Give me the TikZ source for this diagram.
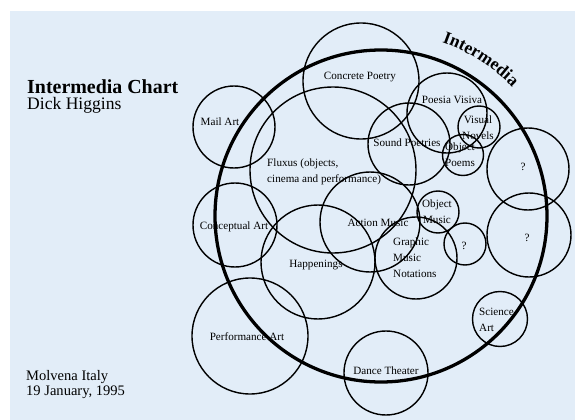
\documentclass[tikz,border=0pt]{standalone}
\usepackage{xcolor}
\usepackage{fontspec}
\setmainfont{Liberation Serif}
\usetikzlibrary{decorations.text}
\definecolor{paper}{RGB}{226,237,248}

\begin{document}
\begin{tikzpicture}[
  x=0.03cm, y=-0.03cm,
  ring/.style={circle, draw, line width=1.2pt, inner sep=0pt, outer sep=0pt, minimum size={#1*0.06cm}},
  bigring/.style={ring=#1, line width=2.8pt},
  tag/.style={font=\fontsize{9.5}{13.5}\selectfont, align=center, inner sep=0pt},
  ltag/.style={tag, align=left, anchor=west},
  head/.style={font=\fontsize{17}{18}\selectfont\bfseries, anchor=base west, inner sep=0pt},
  sub/.style={font=\fontsize{15}{18}\selectfont, anchor=base west, inner sep=0pt},
  foot/.style={font=\fontsize{12.4}{13}\selectfont, anchor=base west, inner sep=0pt}
]
  \useasboundingbox (0,0) rectangle (575,420);
  \fill[white] (0,0) rectangle (575,420);
  \fill[paper] (10,11) rectangle (575,420);

  % titles
  \node[head] (title) at (27,93) {Intermedia Chart};
  \node[sub] (author) at (27,110) {Dick Higgins};
  \node[foot] (place) at (26,380) {Molvena Italy};
  \node[foot] (date) at (26,395) {19 January, 1995};

  % the big one
  \node[bigring=166] (intermedia) at (381,216) {};
  \path[decorate, decoration={text along path, text align=center,
      text={|\fontsize{15}{15}\selectfont\bfseries|Intermedia}}]
    (intermedia.center) ++(-74:184) arc[start angle=-74, end angle=-41, radius=184];

  % media circles
  \node[ring=58] (concrete) at (361,81) {};
  \node[ring=41] (mail) at (234,127) {};
  \node[ring=83] (fluxus) at (333,170) {};
  \node[ring=41] (sound) at (409,144) {};
  \node[ring=40] (poesia) at (447,113) {};
  \node[ring=21] (novels) at (479,127) {};
  \node[ring=20.5] (objpoems) at (463,155) {};
  \node[ring=41] (qtop) at (528,169) {};
  \node[ring=42] (qright) at (529,235) {};
  \node[ring=21] (objmusic) at (438,212) {};
  \node[ring=21] (qsmall) at (465,244) {};
  \node[ring=50] (action) at (370,222) {};
  \node[ring=41] (graphic) at (416,258) {};
  \node[ring=57] (happen) at (318,262) {};
  \node[ring=42] (concept) at (235,225) {};
  \node[ring=58] (perform) at (250,336) {};
  \node[ring=42] (dance) at (386,373) {};
  \node[ring=27.5] (science) at (500,319) {};

  % labels
  \node[tag] (concretetxt) at (360,77) {Concrete Poetry};
  \node[tag] (mailtxt) at (220,122) {Mail Art};
  \node[ltag] (fluxustxt) at (267,172) {Fluxus (objects,\\cinema and performance)};
  \node[tag] (soundtxt) at (407,143) {Sound Poetries};
  \node[tag] (poesiatxt) at (452,100) {Poesia Visiva};
  \node[tag] (novelstxt) at (478,128) {Visual\\Novels};
  \node[tag] (objpoemstxt) at (460,155) {Object\\Poems};
  \node[tag] (qtoptxt) at (523,167) {?};
  \node[tag] (qrighttxt) at (527,238) {?};
  \node[tag] (objmusictxt) at (437,212) {Object\\Music};
  \node[tag] (qsmalltxt) at (464,246) {?};
  \node[tag] (actiontxt) at (378,223) {Action Music};
  \node[ltag] (graphictxt) at (393,258) {Graphic\\Music\\Notations};
  \node[tag] (happentxt) at (316,265) {Happenings};
  \node[tag] (concepttxt) at (234,227) {Conceptual Art};
  \node[tag] (performtxt) at (247,337) {Performance Art};
  \node[tag] (dancetxt) at (386,371) {Dance Theater};
  \node[ltag] (sciencetxt) at (479,320) {Science\\Art};
\end{tikzpicture}
\end{document}
